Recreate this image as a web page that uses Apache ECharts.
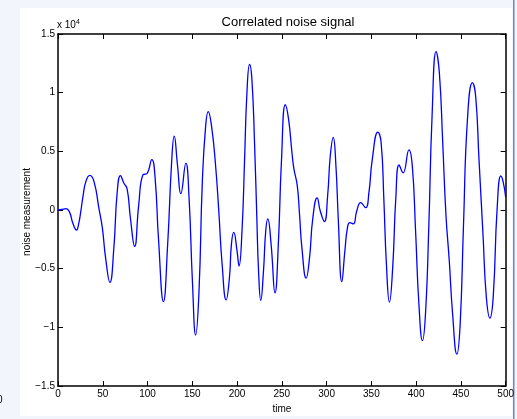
<!DOCTYPE html>
<html>
<head>
<meta charset="utf-8">
<script src="https://cdn.jsdelivr.net/npm/echarts@6/dist/echarts.min.js"></script>
<style>
html,body{margin:0;padding:0;background:#f2f6fc;}
#chart{width:517px;height:419px;}
</style>
</head>
<body>
<div id="chart"></div>
<script>
// time samples (x) and noise measurement values in units of 10^4 (y)
const timeValues = [0, 4, 9, 13, 16.5, 20.7, 23, 25.5, 28, 31, 35.5, 40.3, 45.8, 49.5, 53.2, 58, 62.4, 66.1, 69.8, 73.5, 77.2, 80.9, 85.6, 90.1, 94.9, 99.3, 104.8, 108.5, 112.2, 117.8, 122.5, 127, 129.8, 133.5, 137.2, 142.8, 146.4, 150.1, 153.8, 157.5, 161.2, 164.9, 167.8, 171.5, 176, 179.6, 183.3, 187.8, 191.5, 193.7, 196.3, 200, 202.2, 205.5, 208.4, 211, 214, 216.6, 219.5, 222.1, 224, 226.5, 229.5, 232, 234.3, 238, 242.4, 246.1, 249.6, 253.9, 257.6, 261.3, 263.5, 267.2, 269.8, 272.4, 277.2, 280.9, 284.6, 289.4, 293, 297.5, 301.2, 304.1, 307.4, 310.4, 313, 317, 320.4, 323.3, 325.9, 329.9, 333.6, 338.1, 343.6, 347.3, 351, 357.3, 360.9, 363.9, 366.8, 370.2, 373.9, 377.3, 381, 385.4, 392, 395.7, 399.4, 403.1, 407.1, 410.5, 414.2, 417.8, 422.3, 426, 429.7, 433.3, 437, 440.7, 445.5, 449.2, 452.9, 457.3, 462.9, 466.5, 470.2, 474.7, 478.4, 482.4, 486.1, 490.5, 494.6, 497.2, 500];
const noiseValues = [0, 0.005, 0.012, -0.02, -0.11, -0.17, -0.12, -0.01, 0.12, 0.24, 0.295, 0.24, 0.01, -0.15, -0.41, -0.617, -0.32, 0.15, 0.294, 0.23, 0.18, -0.07, -0.31, 0.04, 0.30, 0.31, 0.43, 0.27, -0.24, -0.78, -0.29, 0.42, 0.63, 0.38, 0.14, 0.40, 0.10, -0.60, -1.065, -0.69, 0.24, 0.715, 0.838, 0.715, 0.38, -0.01, -0.46, -0.765, -0.575, -0.29, -0.19, -0.35, -0.477, -0.18, 0.43, 0.995, 1.24, 1.11, 0.575, -0.07, -0.52, -0.77, -0.52, -0.18, -0.076, -0.29, -0.706, -0.29, 0.42, 0.897, 0.77, 0.49, 0.35, 0.21, -0.04, -0.32, -0.58, -0.41, -0.07, 0.104, -0.01, -0.098, 0.126, 0.46, 0.62, 0.38, -0.07, -0.61, -0.35, -0.15, -0.107, -0.118, -0.01, 0.064, 0.02, 0.15, 0.43, 0.664, 0.575, 0.1, -0.46, -0.785, -0.48, 0.1, 0.384, 0.317, 0.513, 0.38, -0.18, -0.8, -1.113, -0.88, -0.13, 0.8, 1.35, 1.163, 0.575, -0.04, -0.43, -0.88, -1.228, -0.97, -0.13, 0.77, 1.085, 0.97, 0.435, -0.21, -0.74, -0.92, -0.74, 0.014, 0.29, 0.24, 0.11];
const xTickValues = [0, 50, 100, 150, 200, 250, 300, 350, 400, 450, 500];
const yTickValues = [-1.5, -1, -0.5, 0, 0.5, 1, 1.5];
const yTickLabels = ['\u22121.5', '\u22121', '\u22120.5', '0', '0.5', '1', '1.5'];

const seriesData = timeValues.map((t, i) => [t, noiseValues[i]]);
const font = 'Liberation Sans, Arial, Helvetica, sans-serif';
const axisLine = { show: true, onZero: false, lineStyle: { color: '#000', width: 1.5 } };
const tick = { show: true, inside: true, length: 5, lineStyle: { color: '#000', width: 1 } };

const chart = echarts.init(document.getElementById('chart'), null, { renderer: 'canvas' });
chart.setOption({
  animation: false,
  backgroundColor: '#f2f6fc',
  graphic: [
    { type: 'rect', shape: { x: 20, y: 8, width: 492, height: 408 }, style: { fill: '#ffffff' }, z: -10, silent: true },
    { type: 'rect', shape: { x: 513, y: 0, width: 1.5, height: 419 }, style: { fill: '#6f86c9' }, z: -9, silent: true },
    { type: 'text', left: 57, top: 19, style: { text: 'x 10{s|4}', font: '10px ' + font, fill: '#000',
        rich: { s: { fontSize: 7, verticalAlign: 'top', padding: [0, 0, 6, 0], fontFamily: font } } } },
    { type: 'text', left: -3, top: 395, style: { text: '0', font: '10px ' + font, fill: '#000' } },
    { type: 'text', x: 27, y: 212, rotation: Math.PI / 2,
      style: { text: 'noise measurement', font: '10px ' + font, fill: '#000', align: 'center', verticalAlign: 'middle' } }
  ],
  title: {
    text: 'Correlated noise signal',
    left: 283, top: 11, textAlign: 'center',
    textStyle: { fontFamily: font, fontSize: 13, fontWeight: 'normal', color: '#000' }
  },
  grid: { left: 58, right: 8, top: 34, bottom: 28, containLabel: false },
  xAxis: [
    {
      type: 'value', min: 0, max: 500, interval: 50, position: 'bottom',
      name: 'time', nameLocation: 'middle', nameGap: 16,
      nameTextStyle: { fontFamily: font, fontSize: 10, color: '#000' },
      axisLine: axisLine, axisTick: tick, splitLine: { show: false },
      axisLabel: { margin: 3, fontFamily: font, fontSize: 10, color: '#000',
        formatter: v => xTickValues.includes(v) ? String(v) : '' }
    },
    {
      type: 'value', min: 0, max: 500, interval: 50, position: 'top',
      axisLine: axisLine, axisTick: tick, splitLine: { show: false }, axisLabel: { show: false }
    }
  ],
  yAxis: [
    {
      type: 'value', min: -1.5, max: 1.5, interval: 0.5, position: 'left',
      axisLine: axisLine, axisTick: tick, splitLine: { show: false },
      axisLabel: { margin: 3, fontFamily: font, fontSize: 10, color: '#000',
        formatter: v => { const i = yTickValues.findIndex(t => Math.abs(t - v) < 1e-9); return i >= 0 ? yTickLabels[i] : ''; } }
    },
    {
      type: 'value', min: -1.5, max: 1.5, interval: 0.5, position: 'right',
      axisLine: axisLine, axisTick: tick, splitLine: { show: false }, axisLabel: { show: false }
    }
  ],
  series: [{
    type: 'line', xAxisIndex: 0, yAxisIndex: 0,
    data: seriesData, showSymbol: false, smooth: 0.5,
    lineStyle: { color: '#0000ff', width: 1.3 }, clip: true
  }]
});
</script>
</body>
</html>
